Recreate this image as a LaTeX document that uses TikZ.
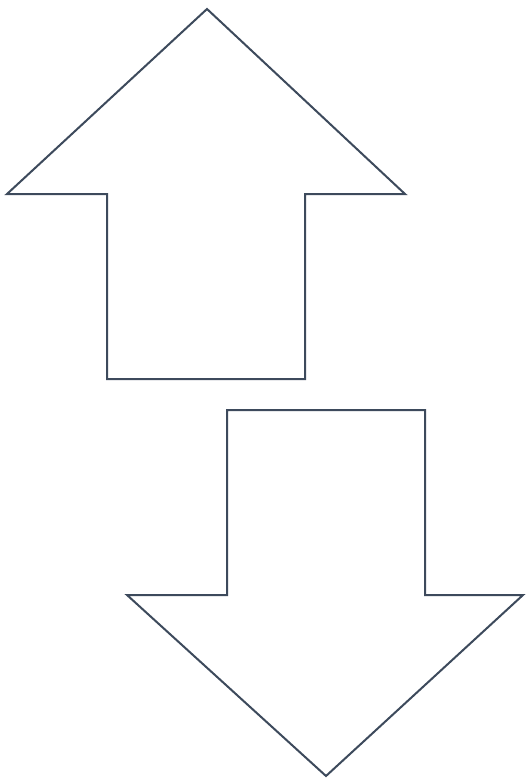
\documentclass[tikz,border=0pt]{standalone}
\usepackage{tikz}
\definecolor{arrowline}{RGB}{61,74,92}

\begin{document}
\begin{tikzpicture}[x=1pt, y=-1pt, arrowshape/.style={draw=arrowline, line width=2pt, line join=miter, fill=white}]
  \useasboundingbox (0,0) rectangle (525,778);
  % upward block arrow
  \draw[arrowshape] (207,9) -- (405,194) -- (305,194) -- (305,379) -- (107,379)
    -- (107,194) -- (7,194) -- cycle;
  % downward block arrow
  \draw[arrowshape] (227,410) -- (425,410) -- (425,595) -- (523,595) -- (326,776)
    -- (127,595) -- (227,595) -- cycle;
\end{tikzpicture}
\end{document}
